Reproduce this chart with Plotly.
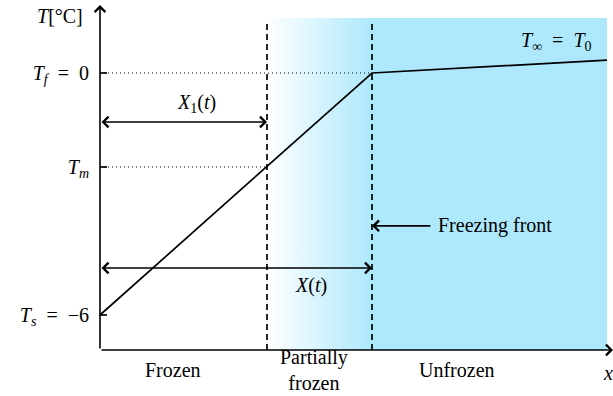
import plotly.graph_objects as go

# ---- data (schematic values) ----
T_s = -6.0          # surface temperature
T_f = 0.0           # freezing temperature
T_m = -2.33         # mushy-zone temperature
T_end = 0.32        # temperature at right end
X1 = 0.614          # X_1(t)
X = 1.0             # X(t), freezing front
x_end = 1.864       # right end of domain

profile_x = [0.0, X, x_end]
profile_T = [T_s, T_f, T_end]

ytick_vals = [T_f, T_m, T_s]
ytick_text = ["<i>T<sub>f</sub></i>\u2002=\u20020", "<i>T<sub>m</sub></i>",
              "<i>T<sub>s</sub></i>\u2002=\u2002−6"]

region_labels = ["Frozen", "Partially<br>frozen", "Unfrozen"]
region_x = [0.268, 0.786, 1.3125]

# ---- layout geometry ----
x_min, x_max = 0.0, 1.886
y_min, y_max = -6.868, 1.686
y_top_fill = 1.364
y_top_dash = 1.265

FONT = "Liberation Serif"
BLUE = "#ADE8FC"

def px(x):
    return (x - x_min) / (x_max - x_min)

def py(y):
    return (y - y_min) / (y_max - y_min)

fig = go.Figure()

# partially frozen zone: gradient fill
fig.add_trace(go.Scatter(
    x=[X1, X, X, X1, X1], y=[y_min, y_min, y_top_fill, y_top_fill, y_min],
    fill="toself", mode="lines", line=dict(width=0),
    fillgradient=dict(type="horizontal", colorscale=[[0, "white"], [1, BLUE]]),
    hoverinfo="skip", showlegend=False))
# unfrozen zone: solid fill
fig.add_trace(go.Scatter(
    x=[X, x_end, x_end, X, X], y=[y_min, y_min, y_top_fill, y_top_fill, y_min],
    fill="toself", mode="lines", line=dict(width=0), fillcolor=BLUE,
    hoverinfo="skip", showlegend=False))

# dotted guide lines
fig.add_trace(go.Scatter(x=[0, X], y=[T_f, T_f], mode="lines",
                         line=dict(color="black", width=1, dash="1px,3px"),
                         hoverinfo="skip", showlegend=False))
fig.add_trace(go.Scatter(x=[0, X1], y=[T_m, T_m], mode="lines",
                         line=dict(color="black", width=1, dash="1px,3px"),
                         hoverinfo="skip", showlegend=False))

# dashed boundaries
for xv in [X1, X]:
    fig.add_trace(go.Scatter(x=[xv, xv], y=[y_min, y_top_dash], mode="lines",
                             line=dict(color="black", width=1.7, dash="6px,4px"),
                             hoverinfo="skip", showlegend=False))

# temperature profile
fig.add_trace(go.Scatter(x=profile_x, y=profile_T, mode="lines",
                         line=dict(color="black", width=1.7),
                         hoverinfo="skip", showlegend=False))

shapes = []
for tv in ytick_vals:
    shapes.append(dict(type="line", xref="x", yref="y", xsizemode="pixel", xanchor=0,
                       x0=-7, x1=7, y0=tv, y1=tv, line=dict(color="black", width=1.7)))

ann = []
def arrow(x0, y0, x1, y1, both=False):
    ann.append(dict(x=x1, y=y1, ax=x0, ay=y0, xref="x", yref="y", axref="x", ayref="y",
                    text="", showarrow=True, arrowhead=4, arrowsize=1.3, arrowwidth=1.6,
                    arrowcolor="black", standoff=0, startstandoff=0,
                    arrowside="end+start" if both else "end",
                    startarrowhead=4, startarrowsize=1.3))

# axes
arrow(0, y_min, 0, y_max)
arrow(0, y_min, x_max, y_min)
# X1(t), X(t)
arrow(0, -1.215, X1, -1.215, both=True)
arrow(0, -4.835, X, -4.835, both=True)
# freezing front
arrow(1.22, -3.79, X, -3.79)

def text(x, y, s, size=20, xanchor="center"):
    ann.append(dict(x=px(x), y=py(y), xref="paper", yref="paper", text=s, showarrow=False,
                    xanchor=xanchor, yanchor="middle",
                    font=dict(family=FONT, size=size, color="black")))

text(0.353, -0.744, "<i>X</i><sub>1</sub>(<i>t</i>)")
text(0.776, -5.26, "<i>X</i>(<i>t</i>)")
text(1.235, -3.79, "Freezing front", xanchor="left")
text(1.68, 0.77, "<i>T</i><sub>∞</sub>\u2002=\u2002<i>T</i><sub>0</sub>")
text(-0.055, 1.41, "<i>T</i>[°C]", xanchor="right")
text(1.866, -7.43, "<i>x</i>")
text(region_x[0], -7.36, region_labels[0])
text(region_x[1], -7.36, region_labels[1])
text(region_x[2], -7.36, region_labels[2])

fig.update_layout(
    width=613, height=396,
    margin=dict(l=100, r=0, t=5, b=46),
    plot_bgcolor="white", paper_bgcolor="white",
    xaxis=dict(range=[x_min, x_max], showgrid=False, zeroline=False, showline=False,
               showticklabels=False, ticks=""),
    yaxis=dict(range=[y_min, y_max], showgrid=False, zeroline=False, showline=False,
               tickvals=ytick_vals, ticktext=ytick_text, ticks="", ticklabelstandoff=10,
               tickfont=dict(family=FONT, size=20, color="black")),
    shapes=shapes, annotations=ann, showlegend=False,
)

fig.write_html("out.html", config={"displayModeBar": False},
               post_script="document.body.style.margin='0';")
